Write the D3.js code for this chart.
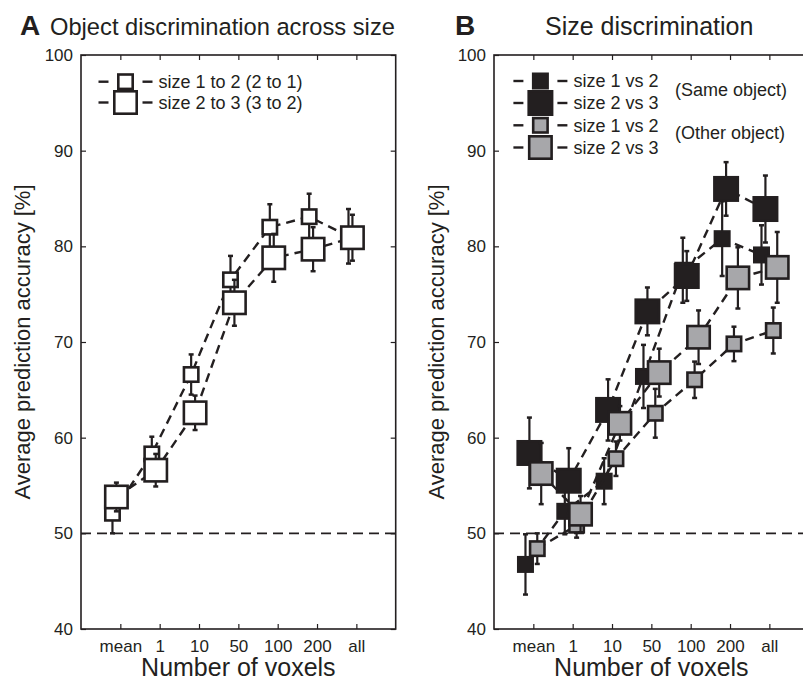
<!DOCTYPE html>
<html lang="en">
    <head>
        <meta charset="utf-8">
        <title>Voxel discrimination</title>
        <script type="text/javascript" src="https://cdn.jsdelivr.net/npm/d3@7"></script>
        <style>
          body{
            margin:0;
            background:white;
          }
          svg text{
            font-family:"Liberation Sans", Arial, sans-serif;
            fill:#231f20;
          }
        </style>
    </head>
    <body>
      <div id="chart"></div>

        <script type="text/javascript">
          // x categories and y ticks
          var categories = ["mean","1","10","50","100","200","all"]
          var yTicks = [40,50,60,70,80,90,100]

          // panel A: object discrimination across size
          var objSize12 = [52.1, 58.3, 66.6, 76.5, 82.0, 83.1, 81.05]
          var objSize12Err = [2.1, 1.8, 2.1, 2.5, 2.4, 2.4, 2.85]
          var objSize23 = [53.8, 56.6, 62.6, 74.1, 78.8, 79.7, 80.9]
          var objSize23Err = [1.5, 1.7, 1.8, 2.4, 2.5, 2.3, 2.4]

          // panel B: size discrimination
          var sameSize12 = [46.75, 52.3, 55.45, 66.4, 77.5, 80.8, 79.1]
          var sameSize12Err = [3.15, 2.4, 2.4, 3.3, 3.4, 3.9, 3.1]
          var sameSize23 = [58.4, 55.5, 62.9, 73.2, 76.9, 86.0, 83.9]
          var sameSize23Err = [3.7, 3.4, 3.2, 2.5, 2.6, 2.8, 3.5]
          var otherSize12 = [48.4, 50.85, 57.8, 62.55, 66.05, 69.8, 71.2]
          var otherSize12Err = [1.6, 1.3, 1.8, 2.55, 1.9, 1.8, 2.4]
          var otherSize23 = [56.25, 52.0, 61.5, 66.8, 70.5, 76.7, 77.8]
          var otherSize23Err = [3.2, 1.9, 1.8, 2.5, 2.8, 3.2, 3.7]

          var ink = "#231f20"
          var grey = "#a7a7aa"

          var svg = d3.select("#chart").append("svg").attr("width",803).attr("height",679)

          var y = d3.scaleLinear().domain([40,100]).range([629,55])

          drawPanel(81, 22, [
            {values:objSize12, err:objSize12Err, offset:-0.2, size:17, fill:"white"},
            {values:objSize23, err:objSize23Err, offset:-0.1, size:25, fill:"white"}
          ])
          drawPanel(494, 436, [
            {values:sameSize12, err:sameSize12Err, offset:-0.2, size:17, fill:ink},
            {values:sameSize23, err:sameSize23Err, offset:-0.1, size:26, fill:ink},
            {values:otherSize12, err:otherSize12Err, offset:0.1, size:17, fill:grey},
            {values:otherSize23, err:otherSize23Err, offset:0.2, size:25, fill:grey}
          ])

          function drawPanel(left, yTitleX, series){
            var x = d3.scaleLinear().domain([-1,7]).range([left, left+314.7])
            var g = svg.append("g")
            var x0 = x.range()[0], x1 = x.range()[1]

            // chance level
            g.append("line")
              .attr("x1",x0).attr("x2",x1)
              .attr("y1",y(50)).attr("y2",y(50))
              .attr("stroke",ink).attr("stroke-width",1.8)
              .attr("stroke-dasharray","10,6")

            // axes, ticks pointing inward on all four sides
            var idx = d3.range(categories.length)
            var bottom = g.append("g").attr("transform","translate(0,"+y(40)+")")
              .call(d3.axisBottom(x).tickValues(idx).tickSize(-5).tickPadding(11)
                .tickFormat(function(d){return categories[d]}))
            var top = g.append("g").attr("transform","translate(0,"+y(100)+")")
              .call(d3.axisTop(x).tickValues(idx).tickSize(-5).tickFormat(""))
            var leftAx = g.append("g").attr("transform","translate("+x0+",0)")
              .call(d3.axisLeft(y).tickValues(yTicks).tickSize(-5).tickPadding(8))
            var rightAx = g.append("g").attr("transform","translate("+x1+",0)")
              .call(d3.axisRight(y).tickValues(yTicks).tickSize(-5).tickFormat(""))
            ;[bottom,top,leftAx,rightAx].forEach(function(a){
              a.select(".domain").remove()
              a.selectAll("line").attr("stroke",ink).attr("stroke-width",1.2)
              a.selectAll("text").attr("font-size",17).attr("fill",ink)
                .style("font-family","'Liberation Sans', Arial, sans-serif")
            })
            bottom.selectAll("text").attr("dy","0.71em")

            g.append("rect")
              .attr("x",x0).attr("y",y(100))
              .attr("width",x1-x0).attr("height",y(40)-y(100))
              .attr("fill","none").attr("stroke",ink).attr("stroke-width",1.6)

            // series: dashed line, error bars, square markers
            series.forEach(function(s){
              var pts = s.values.map(function(v,i){
                return {x:x(i+s.offset), y:y(v), lo:y(v-s.err[i]), hi:y(v+s.err[i])}
              })
              var line = d3.line().x(function(d){return d.x}).y(function(d){return d.y})
              g.append("path").datum(pts)
                .attr("d",line)
                .attr("fill","none").attr("stroke",ink).attr("stroke-width",2.4)
                .attr("stroke-dasharray","9,6")

              var eb = g.append("g").selectAll("g").data(pts).enter().append("g")
              eb.append("line")
                .attr("x1",function(d){return d.x}).attr("x2",function(d){return d.x})
                .attr("y1",function(d){return d.lo}).attr("y2",function(d){return d.hi})
                .attr("stroke",ink).attr("stroke-width",2.2)
              eb.append("line")
                .attr("x1",function(d){return d.x-2.5}).attr("x2",function(d){return d.x+2.5})
                .attr("y1",function(d){return d.lo}).attr("y2",function(d){return d.lo})
                .attr("stroke",ink).attr("stroke-width",2.5)
              eb.append("line")
                .attr("x1",function(d){return d.x-2.5}).attr("x2",function(d){return d.x+2.5})
                .attr("y1",function(d){return d.hi}).attr("y2",function(d){return d.hi})
                .attr("stroke",ink).attr("stroke-width",2.5)

              var h = s.size/2 - 1.3
              g.append("g").selectAll("rect").data(pts).enter().append("rect")
                .attr("x",function(d){return d.x-h}).attr("y",function(d){return d.y-h})
                .attr("width",2*h).attr("height",2*h)
                .attr("fill",s.fill).attr("stroke",ink).attr("stroke-width",2.6)
            })

            g.append("text")
              .attr("x",(x0+x1)/2).attr("y",676)
              .attr("text-anchor","middle").attr("font-size",25)
              .text("Number of voxels")
            g.append("text")
              .attr("transform","translate("+yTitleX+","+y(70)+") rotate(-90)")
              .attr("text-anchor","middle").attr("dy","0.35em").attr("font-size",22)
              .text("Average prediction accuracy [%]")
          }

          // titles
          svg.append("text").attr("x",20).attr("y",35).attr("font-size",28).attr("font-weight","bold").text("A")
          svg.append("text").attr("x",50).attr("y",35).attr("font-size",23.7).text("Object discrimination across size")
          svg.append("text").attr("x",455).attr("y",35).attr("font-size",28).attr("font-weight","bold").text("B")
          svg.append("text").attr("x",545).attr("y",35).attr("font-size",25).text("Size discrimination")

          // legends
          var legendA = [
            {label:"size 1 to 2 (2 to 1)", size:17, fill:"white", cy:81.7},
            {label:"size 2 to 3 (3 to 2)", size:25, fill:"white", cy:102.5}
          ]
          var legendB = [
            {label:"size 1 vs 2", size:17, fill:ink, cy:81},
            {label:"size 2 vs 3", size:26, fill:ink, cy:103},
            {label:"size 1 vs 2", size:17, fill:grey, cy:125.3},
            {label:"size 2 vs 3", size:25, fill:grey, cy:147.5}
          ]
          addLegend(legendA, 125.5)
          addLegend(legendB, 540.4)
          svg.append("text").attr("x",675).attr("y",90).attr("dy","0.35em").attr("font-size",18).text("(Same object)")
          svg.append("text").attr("x",675).attr("y",133).attr("dy","0.35em").attr("font-size",18).text("(Other object)")

          function addLegend(items, cx){
            var rows = svg.append("g").selectAll("g").data(items).enter().append("g")
            rows.append("line")
              .attr("x1",cx-27).attr("x2",cx-17)
              .attr("y1",function(d){return d.cy}).attr("y2",function(d){return d.cy})
              .attr("stroke",ink).attr("stroke-width",2.4)
            rows.append("line")
              .attr("x1",cx+17).attr("x2",cx+27)
              .attr("y1",function(d){return d.cy}).attr("y2",function(d){return d.cy})
              .attr("stroke",ink).attr("stroke-width",2.4)
            rows.append("rect")
              .attr("x",function(d){return cx-d.size/2+1.3}).attr("y",function(d){return d.cy-d.size/2+1.3})
              .attr("width",function(d){return d.size-2.6}).attr("height",function(d){return d.size-2.6})
              .attr("fill",function(d){return d.fill}).attr("stroke",ink).attr("stroke-width",2.6)
            rows.append("text")
              .attr("x",cx+33).attr("y",function(d){return d.cy})
              .attr("dy","0.35em").attr("font-size",18)
              .text(function(d){return d.label})
          }
        </script>
    </body>
</html>
